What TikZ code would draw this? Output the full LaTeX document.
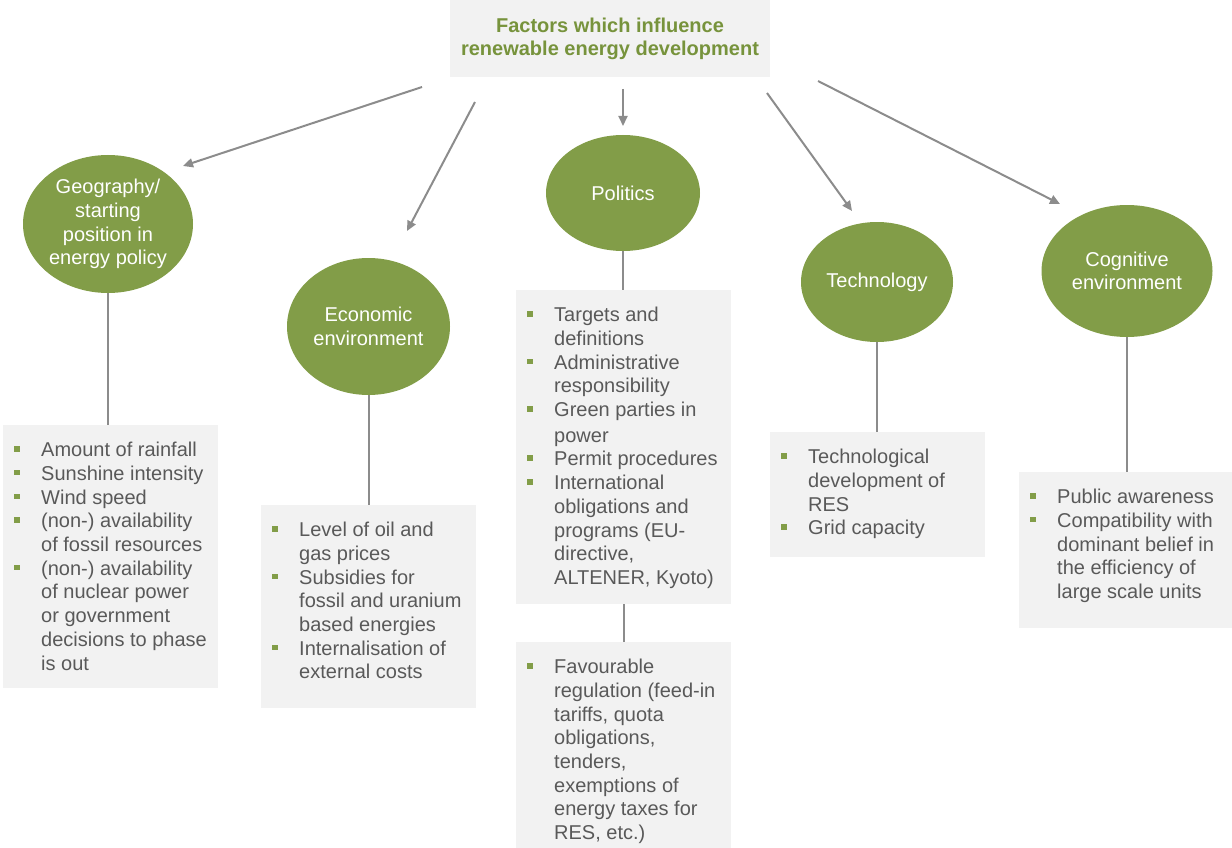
\documentclass[tikz,border=0pt]{standalone}
\usepackage{fontspec}
\setmainfont{Liberation Sans}
\usepackage{tikz}
\usetikzlibrary{shapes.geometric}
\usetikzlibrary{arrows.meta}

\definecolor{leaf}{RGB}{130,157,72}
\definecolor{leafdark}{RGB}{119,147,60}
\definecolor{boxgrey}{RGB}{242,242,242}
\definecolor{ink}{RGB}{89,89,89}
\definecolor{wire}{RGB}{140,140,140}

% small green square in front of each point
\newcommand{\sqbul}{\textcolor{leaf}{\rule[5pt]{5.5pt}{5.5pt}}}
% grey list panel: #1 = height, #2 = rows of the list
\newcommand{\factlist}[2]{%
	\parbox[c][#1][t]{215pt}{\vspace*{15pt}\hspace*{11pt}%
	\begin{tabular}[t]{@{}l@{\hspace{21.5pt}}l@{}}#2\end{tabular}}}

\tikzset{
	factor/.style={ellipse, fill=leaf, inner sep=0pt},
	factbox/.style={fill=boxgrey, inner sep=0pt, anchor=north west, text=ink},
	feed/.style={draw=wire, line width=2pt, -{Triangle[length=10pt,width=9pt]}},
	link/.style={draw=wire, line width=2pt},
}

\begin{document}
\begin{tikzpicture}[x=1pt, y=-1pt, font=\fontsize{20}{23.7}\selectfont]
				\useasboundingbox (0,0) rectangle (1232,848);
				% Headline:
				\node[fill=boxgrey, minimum width=320pt, minimum height=77pt, text=leafdark, align=center,
					font=\fontsize{20}{23}\selectfont\bfseries] (title) at (610,38.5)
					{Factors which influence\\renewable energy development};
				% Factors:
				\node[factor, minimum width=170pt, minimum height=138pt,
					label={[text=white, align=center]center:{Geography/\\starting\\position in\\energy policy}}] (geo) at (108,224) {};
				\node[factor, minimum width=163pt, minimum height=137pt,
					label={[text=white, align=center]center:{Economic\\environment}}] (econ) at (368.5,326.5) {};
				\node[factor, minimum width=154pt, minimum height=116pt,
					label={[text=white]center:Politics}] (pol) at (623,193) {};
				\node[factor, minimum width=152pt, minimum height=120pt,
					label={[text=white]center:Technology}] (tech) at (877,282) {};
				\node[factor, minimum width=171pt, minimum height=132pt,
					label={[text=white, align=center]center:{Cognitive\\environment}}] (cog) at (1127,271) {};
				% Arrows from the headline:
				\coordinate (geo-tail) at (422,87);
				\coordinate (geo-tip) at (183,166);
				\coordinate (econ-tail) at (475,102);
				\coordinate (econ-tip) at (407,231);
				\coordinate (pol-tail) at (623,89);
				\coordinate (pol-tip) at (623,126);
				\coordinate (tech-tail) at (767,93);
				\coordinate (tech-tip) at (852,211);
				\coordinate (cog-tail) at (818,81);
				\coordinate (cog-tip) at (1060,204);
				\draw[feed] (geo-tail) -- (geo-tip);
				\draw[feed] (econ-tail) -- (econ-tip);
				\draw[feed] (pol-tail) -- (pol-tip);
				\draw[feed] (tech-tail) -- (tech-tip);
				\draw[feed] (cog-tail) -- (cog-tip);
				% Lists:
				\node[factbox] (geobox) at (3,425) {\factlist{263pt}{
					\sqbul & Amount of rainfall\\
					\sqbul & Sunshine intensity\\
					\sqbul & Wind speed\\
					\sqbul & (non-) availability\\
					& of fossil resources\\
					\sqbul & (non-) availability\\
					& of nuclear power\\
					& or government\\
					& decisions to phase\\
					& is out}};
				\node[factbox] (econbox) at (261,505) {\factlist{203pt}{
					\sqbul & Level of oil and\\
					& gas prices\\
					\sqbul & Subsidies for\\
					& fossil and uranium\\
					& based energies\\
					\sqbul & Internalisation of\\
					& external costs}};
				\node[factbox] (polbox) at (516,290) {\factlist{314pt}{
					\sqbul & Targets and\\
					& definitions\\
					\sqbul & Administrative\\
					& responsibility\\
					\sqbul & Green parties in\\[2pt]
					& power\\
					\sqbul & Permit procedures\\
					\sqbul & International\\
					& obligations and\\
					& programs (EU-\\
					& directive,\\
					& ALTENER, Kyoto)}};
				\node[factbox] (regbox) at (516,642) {\factlist{215pt}{
					\sqbul & Favourable\\
					& regulation (feed-in\\
					& tariffs, quota\\
					& obligations,\\
					& tenders,\\
					& exemptions of\\
					& energy taxes for\\
					& RES, etc.)}};
				\node[factbox] (techbox) at (770,432) {\factlist{125pt}{
					\sqbul & Technological\\
					& development of\\
					& RES\\
					\sqbul & Grid capacity}};
				\node[factbox] (cogbox) at (1019,472) {\factlist{156pt}{
					\sqbul & Public awareness\\
					\sqbul & Compatibility with\\
					& dominant belief in\\
					& the efficiency of\\
					& large scale units}};
				% Stems down to the lists:
				\draw[link] (geo) -- (geo |- geobox.north);
				\draw[link] (econ) -- (econ |- econbox.north);
				\draw[link] (pol) -- (pol |- polbox.north);
				\draw[link] (polbox) -- (regbox);
				\draw[link] (tech) -- (tech |- techbox.north);
				\draw[link] (cog) -- (cog |- cogbox.north);
			\end{tikzpicture}
\end{document}
